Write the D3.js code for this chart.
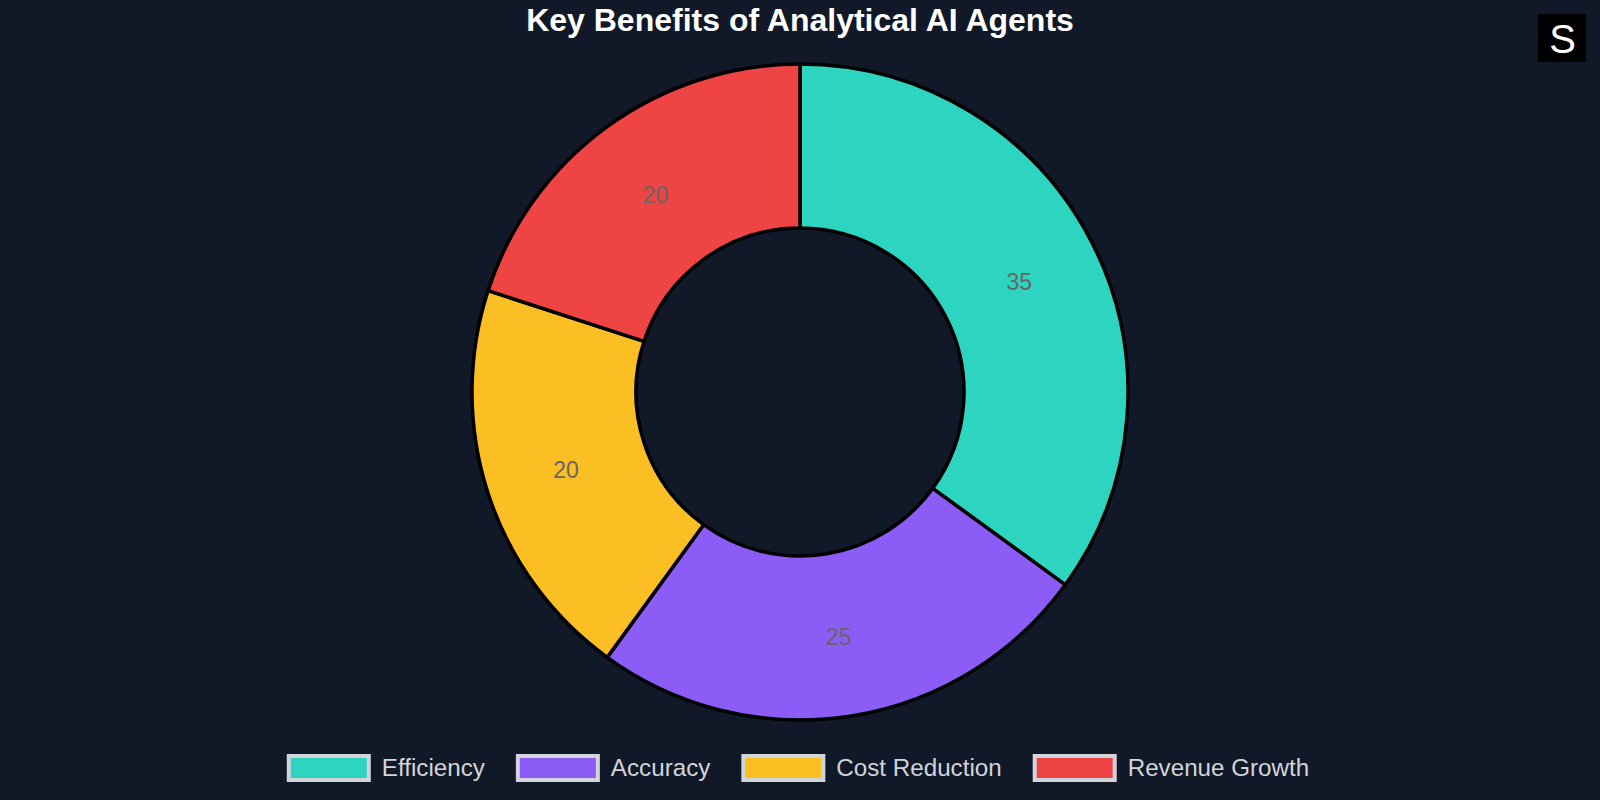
<!DOCTYPE html>
<html>
<head>
<meta charset="utf-8">
<script src="https://cdn.jsdelivr.net/npm/d3@7"></script>
<style>
html,body{margin:0;padding:0;background:#111827;}
svg{display:block;}
</style>
</head>
<body>
<svg id="chart" width="1600" height="800"></svg>
<script>
const categories = ["Efficiency", "Accuracy", "Cost Reduction", "Revenue Growth"];
const values = [35, 25, 20, 20];
const colors = ["#2dd4bf", "#8b5cf6", "#fbbf24", "#ef4444"];
const titleText = "Key Benefits of Analytical AI Agents";

const svg = d3.select("#chart");
const W = 1600, H = 800;
const cx = 800, cy = 392, outerR = 328, innerR = 164;

svg.append("rect").attr("width", W).attr("height", H).attr("fill", "#111827");

svg.append("text")
  .attr("x", W / 2).attr("y", 31)
  .attr("text-anchor", "middle")
  .attr("font-family", "Liberation Sans, Arial, sans-serif")
  .attr("font-weight", "bold")
  .attr("font-size", 32)
  .attr("fill", "#ffffff")
  .text(titleText);

// logo
const logo = svg.append("g").attr("transform", "translate(1538,14)");
logo.append("rect").attr("width", 48).attr("height", 48).attr("fill", "#000000");
logo.append("text").attr("x", 24.5).attr("y", 39).attr("text-anchor", "middle")
  .attr("font-family", "Liberation Sans, Arial, sans-serif")
  .attr("font-size", 40).attr("fill", "#ffffff").text("S");

const data = categories.map((c, i) => ({ cat: c, value: values[i], color: colors[i] }));
const pie = d3.pie().value(d => d.value).sort(null);
const arc = d3.arc().innerRadius(innerR).outerRadius(outerR);
const arcs = pie(data);

const g = svg.append("g").attr("transform", `translate(${cx},${cy})`);
g.selectAll("path.slice").data(arcs).enter().append("path")
  .attr("class", "slice")
  .attr("d", arc)
  .attr("fill", d => d.data.color)
  .attr("stroke", "#000000")
  .attr("stroke-width", 3.5)
  .attr("stroke-linejoin", "round");

g.selectAll("text.lbl").data(arcs).enter().append("text")
  .attr("class", "lbl")
  .attr("transform", d => { const c = arc.centroid(d); return `translate(${c[0]},${c[1] + 2})`; })
  .attr("text-anchor", "middle")
  .attr("dominant-baseline", "central")
  .attr("font-family", "Liberation Sans, Arial, sans-serif")
  .attr("font-size", 23)
  .attr("fill", "#666666")
  .text(d => d.data.value);

// legend
const legend = svg.append("g");
const boxW = 80, boxH = 24, textGap = 13, itemGap = 31;
let x = 0;
const items = [];
data.forEach(d => {
  const it = legend.append("g");
  it.append("rect").attr("x", 2).attr("y", 0).attr("width", boxW).attr("height", boxH)
    .attr("fill", d.color).attr("stroke", "#d1d5db").attr("stroke-width", 4);
  const t = it.append("text").attr("x", boxW + 2 + textGap).attr("y", 20)
    .attr("font-family", "Liberation Sans, Arial, sans-serif")
    .attr("font-size", 24.2).attr("fill", "#d1d5db").text(d.cat);
  const w = boxW + 4 + textGap - 2 + t.node().getComputedTextLength();
  items.push({ it, w });
});
const total = items.reduce((s, o) => s + o.w, 0) + itemGap * (items.length - 1);
x = 798 - total / 2;
items.forEach(o => {
  o.it.attr("transform", `translate(${x},756)`);
  x += o.w + itemGap;
});
</script>
</body>
</html>
